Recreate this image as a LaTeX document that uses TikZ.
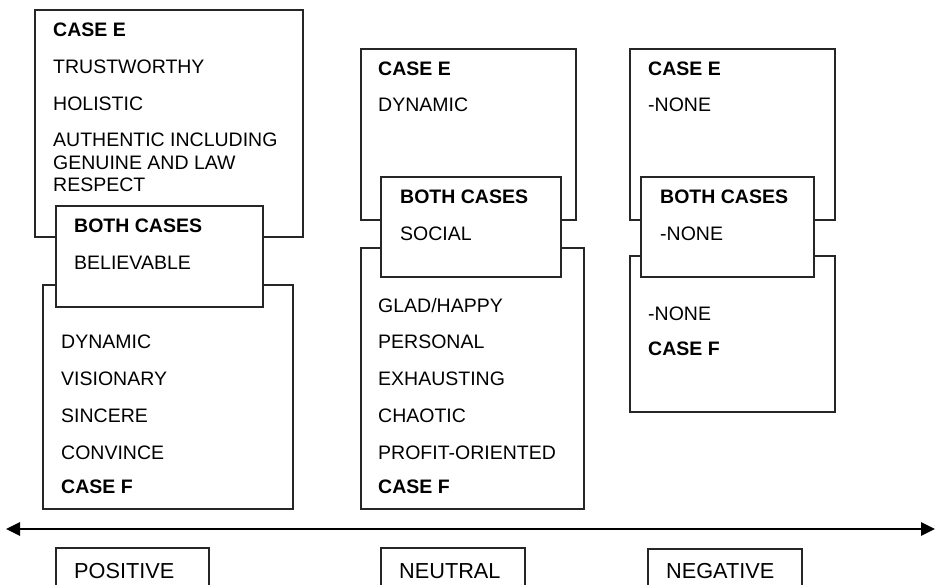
\documentclass[tikz,border=0pt]{standalone}
\usepackage{fontspec}
\setmainfont{Liberation Sans}
\usetikzlibrary{arrows.meta}

\tikzset{
  panel/.style={draw=black!85, line width=1.2pt, fill=white},
  item/.style={anchor=base west, inner sep=0pt, font=\fontsize{19.5}{22.5}\selectfont},
  head/.style={item, font=\fontsize{19.5}{22.5}\selectfont\bfseries},
  tag/.style={anchor=base west, inner sep=0pt, font=\fontsize{21.7}{24}\selectfont},
  axis/.style={line width=2.6pt, {Triangle[length=14pt,width=13pt]}-{Triangle[length=14pt,width=13pt]}}
}

\begin{document}
\begin{tikzpicture}[x=1pt, y=-1pt]
\clip (0,0) rectangle (935,585);
\fill[white] (0,0) rectangle (935,585);

% ---------- positive column ----------
\draw[panel] (35,10) rectangle (303,237);
\draw[panel] (43,285) rectangle (293,509);
\draw[panel] (56,206) rectangle (263,307);
\node[head] (pE)  at (53,37)    {CASE E};
\node[item] (pE1) at (53,74)    {TRUSTWORTHY};
\node[item] (pE2) at (53,111)   {HOLISTIC};
\node[item] (pE3) at (53,147)   {AUTHENTIC INCLUDING};
\node[item] (pE4) at (53,169.5) {GENUINE AND LAW};
\node[item] (pE5) at (53,192)   {RESPECT};
\node[head] (pB)  at (74,233)   {BOTH CASES};
\node[item] (pB1) at (74,270)   {BELIEVABLE};
\node[item] (pF1) at (61,349)   {DYNAMIC};
\node[item] (pF2) at (61,386)   {VISIONARY};
\node[item] (pF3) at (61,422)   {SINCERE};
\node[item] (pF4) at (61,459)   {CONVINCE};
\node[head] (pF)  at (61,493)   {CASE F};

% ---------- neutral column ----------
\draw[panel] (361,49) rectangle (576,220);
\draw[panel] (361,248) rectangle (584,509);
\draw[panel] (381,177) rectangle (561,277);
\node[head] (nE)  at (378,76)  {CASE E};
\node[item] (nE1) at (378,112) {DYNAMIC};
\node[head] (nB)  at (400,204) {BOTH CASES};
\node[item] (nB1) at (400,241) {SOCIAL};
\node[item] (nF1) at (378,313) {GLAD/HAPPY};
\node[item] (nF2) at (378,349) {PERSONAL};
\node[item] (nF3) at (378,386) {EXHAUSTING};
\node[item] (nF4) at (378,422) {CHAOTIC};
\node[item] (nF5) at (378,459) {PROFIT-ORIENTED};
\node[head] (nF)  at (378,493) {CASE F};

% ---------- negative column ----------
\draw[panel] (630,49) rectangle (835,220);
\draw[panel] (630,256) rectangle (835,412);
\draw[panel] (641,177) rectangle (814,277);
\node[head] (gE)  at (648,76)  {CASE E};
\node[item] (gE1) at (648,112) {-NONE};
\node[head] (gB)  at (660,204) {BOTH CASES};
\node[item] (gB1) at (660,241) {-NONE};
\node[item] (gF1) at (648,321) {-NONE};
\node[head] (gF)  at (648,356) {CASE F};

% ---------- scale axis ----------
\coordinate (axisL) at (6,529);
\coordinate (axisR) at (935,529);
\draw[axis] (axisL) -- (axisR);

% ---------- scale labels (boxes run past the lower edge) ----------
\draw[panel] (56,548) rectangle (209,600);
\draw[panel] (381,548) rectangle (525,600);
\draw[panel] (648,549) rectangle (802,600);
\node[tag] (lPos) at (74,578)  {POSITIVE};
\node[tag] (lNeu) at (399,578) {NEUTRAL};
\node[tag] (lNeg) at (666,578) {NEGATIVE};
\end{tikzpicture}
\end{document}
